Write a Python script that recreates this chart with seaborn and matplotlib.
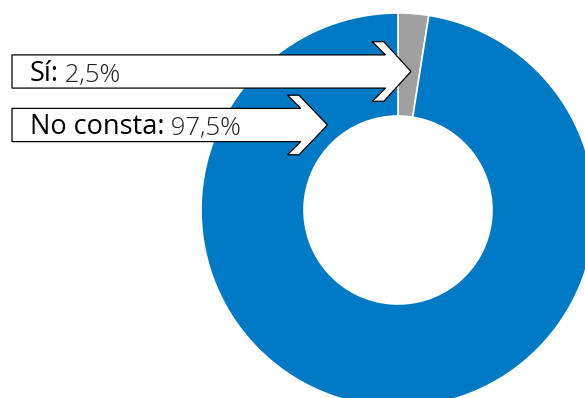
import numpy as np
import seaborn as sns
import matplotlib
matplotlib.use('Agg')
import matplotlib.pyplot as plt
from matplotlib.patches import Polygon

# data
categories = ['Sí', 'No consta']
shares = [2.5, 97.5]
share_labels = ['2,5%', '97,5%']
slice_colors = ['#A0A0A0', '#0079C4']

sns.set_theme(style='white')
plt.rcParams['font.family'] = ['Open Sans', 'DejaVu Sans']

W, H = 585, 398
fig = plt.figure(figsize=(W / 100, H / 100), dpi=100)
ax = fig.add_axes([0, 0, 1, 1])

# donut in pixel coordinates (y axis is flipped below, so 270 deg = top)
cx, cy = 398, 210
r_out, r_in = 197, 94
ax.pie(shares, colors=slice_colors, startangle=270, counterclock=True,
       center=(cx, cy), radius=r_out,
       wedgeprops=dict(width=r_out - r_in, edgecolor='white', linewidth=1.2))


def draw_arrow(x0, yc, xh, xt, h=16.6, hh=29.8, w=11.5):
    xj = xh + (hh - h)
    pts = [(x0, yc - h), (xj, yc - h), (xh, yc - hh), (xh + w, yc - hh),
           (xt, yc), (xh + w, yc + hh), (xh, yc + hh), (xj, yc + h),
           (x0, yc + h)]
    ax.add_patch(Polygon(pts, closed=True, facecolor='white',
                         edgecolor='black', linewidth=0.9, zorder=5))


# label arrows: (row centre, head start, tip)
arrow_rows = [(71.5, 372.3, 411), (125, 287.5, 327.5)]
for (yc, xh, xt), cat, lab in zip(arrow_rows, categories, share_labels):
    draw_arrow(12, yc, xh, xt)
    t1 = ax.text(29.5, yc + 9.5, cat + ':', fontsize=19.5, color='black',
                 va='baseline', ha='left', zorder=6)
    ax.annotate(' ' + lab, xy=(1, 0), xycoords=t1, fontsize=18.5,
                fontweight=300, color='#222222', va='bottom', ha='left',
                zorder=6)

ax.set_xlim(0, W)
ax.set_ylim(H, 0)
ax.set_aspect('equal')
ax.axis('off')

fig.savefig('out.png', dpi=100)
